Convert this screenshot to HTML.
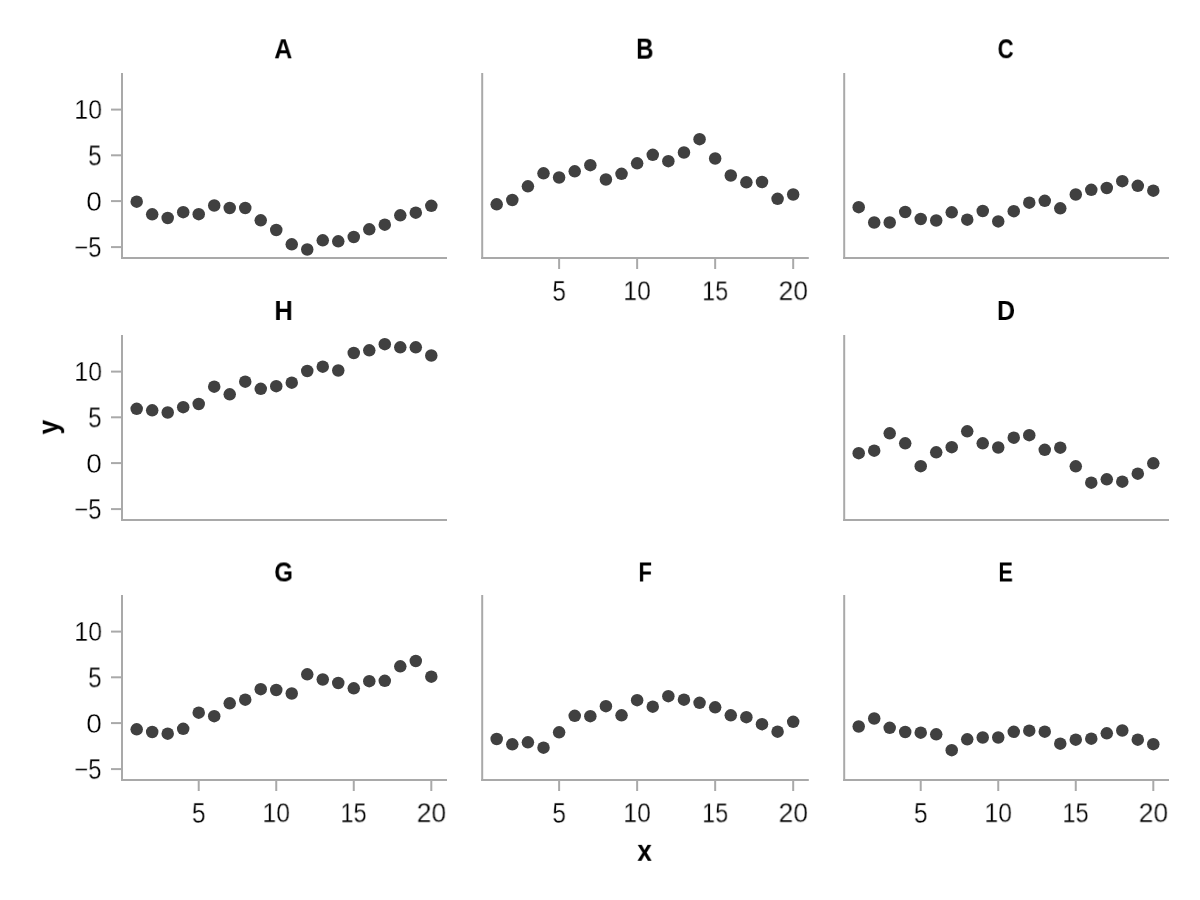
<!DOCTYPE html>
<html><head><meta charset="utf-8"><title>Facet scatter</title>
<style>
html,body{margin:0;padding:0;background:#fff;}
#fig{position:relative;width:1200px;height:900px;overflow:hidden;background:#fff;font-family:"Liberation Sans",sans-serif;}
#fig svg{position:absolute;left:0;top:0;}
.t{position:absolute;left:0;top:0;transform-origin:0 0;white-space:nowrap;color:#000;will-change:transform;}
.b{font-weight:bold;}
.l{font-weight:normal;-webkit-text-stroke:0.3px #fff;}
</style></head>
<body><div id="fig">
<svg width="1200" height="900" viewBox="0 0 1200 900">
<line x1="122.00" y1="73.00" x2="122.00" y2="259.00" stroke="#a9a9a9" stroke-width="2"/>
<line x1="121.00" y1="258.00" x2="447.00" y2="258.00" stroke="#a9a9a9" stroke-width="2"/>
<line x1="111.00" y1="109.60" x2="121.00" y2="109.60" stroke="#a9a9a9" stroke-width="2"/>
<line x1="111.00" y1="155.30" x2="121.00" y2="155.30" stroke="#a9a9a9" stroke-width="2"/>
<line x1="111.00" y1="201.10" x2="121.00" y2="201.10" stroke="#a9a9a9" stroke-width="2"/>
<line x1="111.00" y1="247.10" x2="121.00" y2="247.10" stroke="#a9a9a9" stroke-width="2"/>
<circle cx="136.70" cy="201.70" r="6.25" fill="#404040"/>
<circle cx="152.20" cy="214.30" r="6.25" fill="#404040"/>
<circle cx="167.71" cy="218.00" r="6.25" fill="#404040"/>
<circle cx="183.21" cy="212.20" r="6.25" fill="#404040"/>
<circle cx="198.72" cy="214.20" r="6.25" fill="#404040"/>
<circle cx="214.22" cy="205.50" r="6.25" fill="#404040"/>
<circle cx="229.73" cy="208.00" r="6.25" fill="#404040"/>
<circle cx="245.24" cy="208.00" r="6.25" fill="#404040"/>
<circle cx="260.74" cy="220.30" r="6.25" fill="#404040"/>
<circle cx="276.25" cy="230.00" r="6.25" fill="#404040"/>
<circle cx="291.75" cy="244.30" r="6.25" fill="#404040"/>
<circle cx="307.25" cy="249.50" r="6.25" fill="#404040"/>
<circle cx="322.76" cy="240.30" r="6.25" fill="#404040"/>
<circle cx="338.26" cy="241.30" r="6.25" fill="#404040"/>
<circle cx="353.77" cy="237.00" r="6.25" fill="#404040"/>
<circle cx="369.27" cy="229.30" r="6.25" fill="#404040"/>
<circle cx="384.78" cy="224.70" r="6.25" fill="#404040"/>
<circle cx="400.29" cy="215.30" r="6.25" fill="#404040"/>
<circle cx="415.79" cy="212.70" r="6.25" fill="#404040"/>
<circle cx="431.30" cy="205.80" r="6.25" fill="#404040"/>
<line x1="482.20" y1="73.00" x2="482.20" y2="259.00" stroke="#a9a9a9" stroke-width="2"/>
<line x1="481.20" y1="258.00" x2="808.80" y2="258.00" stroke="#a9a9a9" stroke-width="2"/>
<line x1="559.12" y1="259.00" x2="559.12" y2="269.00" stroke="#a9a9a9" stroke-width="2"/>
<line x1="637.14" y1="259.00" x2="637.14" y2="269.00" stroke="#a9a9a9" stroke-width="2"/>
<line x1="715.17" y1="259.00" x2="715.17" y2="269.00" stroke="#a9a9a9" stroke-width="2"/>
<line x1="793.19" y1="259.00" x2="793.19" y2="269.00" stroke="#a9a9a9" stroke-width="2"/>
<circle cx="496.70" cy="204.30" r="6.25" fill="#404040"/>
<circle cx="512.30" cy="200.00" r="6.25" fill="#404040"/>
<circle cx="527.91" cy="186.30" r="6.25" fill="#404040"/>
<circle cx="543.51" cy="173.30" r="6.25" fill="#404040"/>
<circle cx="559.12" cy="177.50" r="6.25" fill="#404040"/>
<circle cx="574.73" cy="171.30" r="6.25" fill="#404040"/>
<circle cx="590.33" cy="165.20" r="6.25" fill="#404040"/>
<circle cx="605.93" cy="179.50" r="6.25" fill="#404040"/>
<circle cx="621.54" cy="173.80" r="6.25" fill="#404040"/>
<circle cx="637.14" cy="163.30" r="6.25" fill="#404040"/>
<circle cx="652.75" cy="154.80" r="6.25" fill="#404040"/>
<circle cx="668.36" cy="161.20" r="6.25" fill="#404040"/>
<circle cx="683.96" cy="152.50" r="6.25" fill="#404040"/>
<circle cx="699.57" cy="139.20" r="6.25" fill="#404040"/>
<circle cx="715.17" cy="158.50" r="6.25" fill="#404040"/>
<circle cx="730.77" cy="175.50" r="6.25" fill="#404040"/>
<circle cx="746.38" cy="182.30" r="6.25" fill="#404040"/>
<circle cx="761.99" cy="182.00" r="6.25" fill="#404040"/>
<circle cx="777.59" cy="198.80" r="6.25" fill="#404040"/>
<circle cx="793.19" cy="194.50" r="6.25" fill="#404040"/>
<line x1="844.20" y1="73.00" x2="844.20" y2="259.00" stroke="#a9a9a9" stroke-width="2"/>
<line x1="843.20" y1="258.00" x2="1169.00" y2="258.00" stroke="#a9a9a9" stroke-width="2"/>
<circle cx="858.70" cy="207.20" r="6.25" fill="#404040"/>
<circle cx="874.21" cy="222.50" r="6.25" fill="#404040"/>
<circle cx="889.71" cy="222.50" r="6.25" fill="#404040"/>
<circle cx="905.22" cy="212.00" r="6.25" fill="#404040"/>
<circle cx="920.72" cy="219.00" r="6.25" fill="#404040"/>
<circle cx="936.23" cy="220.50" r="6.25" fill="#404040"/>
<circle cx="951.73" cy="212.30" r="6.25" fill="#404040"/>
<circle cx="967.24" cy="219.70" r="6.25" fill="#404040"/>
<circle cx="982.74" cy="211.00" r="6.25" fill="#404040"/>
<circle cx="998.25" cy="221.40" r="6.25" fill="#404040"/>
<circle cx="1013.75" cy="211.20" r="6.25" fill="#404040"/>
<circle cx="1029.26" cy="202.70" r="6.25" fill="#404040"/>
<circle cx="1044.76" cy="200.80" r="6.25" fill="#404040"/>
<circle cx="1060.27" cy="208.30" r="6.25" fill="#404040"/>
<circle cx="1075.77" cy="194.50" r="6.25" fill="#404040"/>
<circle cx="1091.28" cy="189.80" r="6.25" fill="#404040"/>
<circle cx="1106.78" cy="188.00" r="6.25" fill="#404040"/>
<circle cx="1122.29" cy="181.20" r="6.25" fill="#404040"/>
<circle cx="1137.79" cy="185.80" r="6.25" fill="#404040"/>
<circle cx="1153.30" cy="190.70" r="6.25" fill="#404040"/>
<line x1="122.00" y1="335.00" x2="122.00" y2="521.00" stroke="#a9a9a9" stroke-width="2"/>
<line x1="121.00" y1="520.00" x2="447.00" y2="520.00" stroke="#a9a9a9" stroke-width="2"/>
<line x1="111.00" y1="371.60" x2="121.00" y2="371.60" stroke="#a9a9a9" stroke-width="2"/>
<line x1="111.00" y1="417.30" x2="121.00" y2="417.30" stroke="#a9a9a9" stroke-width="2"/>
<line x1="111.00" y1="463.10" x2="121.00" y2="463.10" stroke="#a9a9a9" stroke-width="2"/>
<line x1="111.00" y1="509.10" x2="121.00" y2="509.10" stroke="#a9a9a9" stroke-width="2"/>
<circle cx="136.70" cy="408.80" r="6.25" fill="#404040"/>
<circle cx="152.20" cy="410.30" r="6.25" fill="#404040"/>
<circle cx="167.71" cy="412.50" r="6.25" fill="#404040"/>
<circle cx="183.21" cy="407.20" r="6.25" fill="#404040"/>
<circle cx="198.72" cy="404.00" r="6.25" fill="#404040"/>
<circle cx="214.22" cy="386.70" r="6.25" fill="#404040"/>
<circle cx="229.73" cy="394.30" r="6.25" fill="#404040"/>
<circle cx="245.24" cy="381.70" r="6.25" fill="#404040"/>
<circle cx="260.74" cy="388.80" r="6.25" fill="#404040"/>
<circle cx="276.25" cy="386.20" r="6.25" fill="#404040"/>
<circle cx="291.75" cy="382.70" r="6.25" fill="#404040"/>
<circle cx="307.25" cy="371.00" r="6.25" fill="#404040"/>
<circle cx="322.76" cy="366.70" r="6.25" fill="#404040"/>
<circle cx="338.26" cy="370.50" r="6.25" fill="#404040"/>
<circle cx="353.77" cy="353.00" r="6.25" fill="#404040"/>
<circle cx="369.27" cy="350.30" r="6.25" fill="#404040"/>
<circle cx="384.78" cy="344.20" r="6.25" fill="#404040"/>
<circle cx="400.29" cy="347.30" r="6.25" fill="#404040"/>
<circle cx="415.79" cy="347.30" r="6.25" fill="#404040"/>
<circle cx="431.30" cy="355.50" r="6.25" fill="#404040"/>
<line x1="844.20" y1="335.00" x2="844.20" y2="521.00" stroke="#a9a9a9" stroke-width="2"/>
<line x1="843.20" y1="520.00" x2="1169.00" y2="520.00" stroke="#a9a9a9" stroke-width="2"/>
<circle cx="858.70" cy="453.20" r="6.25" fill="#404040"/>
<circle cx="874.21" cy="450.70" r="6.25" fill="#404040"/>
<circle cx="889.71" cy="433.30" r="6.25" fill="#404040"/>
<circle cx="905.22" cy="443.30" r="6.25" fill="#404040"/>
<circle cx="920.72" cy="466.20" r="6.25" fill="#404040"/>
<circle cx="936.23" cy="452.30" r="6.25" fill="#404040"/>
<circle cx="951.73" cy="447.20" r="6.25" fill="#404040"/>
<circle cx="967.24" cy="431.30" r="6.25" fill="#404040"/>
<circle cx="982.74" cy="443.30" r="6.25" fill="#404040"/>
<circle cx="998.25" cy="447.50" r="6.25" fill="#404040"/>
<circle cx="1013.75" cy="437.70" r="6.25" fill="#404040"/>
<circle cx="1029.26" cy="435.20" r="6.25" fill="#404040"/>
<circle cx="1044.76" cy="449.80" r="6.25" fill="#404040"/>
<circle cx="1060.27" cy="447.70" r="6.25" fill="#404040"/>
<circle cx="1075.77" cy="466.30" r="6.25" fill="#404040"/>
<circle cx="1091.28" cy="482.70" r="6.25" fill="#404040"/>
<circle cx="1106.78" cy="479.30" r="6.25" fill="#404040"/>
<circle cx="1122.29" cy="481.70" r="6.25" fill="#404040"/>
<circle cx="1137.79" cy="473.70" r="6.25" fill="#404040"/>
<circle cx="1153.30" cy="463.30" r="6.25" fill="#404040"/>
<line x1="122.00" y1="595.00" x2="122.00" y2="781.00" stroke="#a9a9a9" stroke-width="2"/>
<line x1="121.00" y1="780.00" x2="447.00" y2="780.00" stroke="#a9a9a9" stroke-width="2"/>
<line x1="111.00" y1="631.60" x2="121.00" y2="631.60" stroke="#a9a9a9" stroke-width="2"/>
<line x1="111.00" y1="677.30" x2="121.00" y2="677.30" stroke="#a9a9a9" stroke-width="2"/>
<line x1="111.00" y1="723.10" x2="121.00" y2="723.10" stroke="#a9a9a9" stroke-width="2"/>
<line x1="111.00" y1="769.10" x2="121.00" y2="769.10" stroke="#a9a9a9" stroke-width="2"/>
<line x1="198.72" y1="781.00" x2="198.72" y2="791.00" stroke="#a9a9a9" stroke-width="2"/>
<line x1="276.25" y1="781.00" x2="276.25" y2="791.00" stroke="#a9a9a9" stroke-width="2"/>
<line x1="353.77" y1="781.00" x2="353.77" y2="791.00" stroke="#a9a9a9" stroke-width="2"/>
<line x1="431.30" y1="781.00" x2="431.30" y2="791.00" stroke="#a9a9a9" stroke-width="2"/>
<circle cx="136.70" cy="729.30" r="6.25" fill="#404040"/>
<circle cx="152.20" cy="732.00" r="6.25" fill="#404040"/>
<circle cx="167.71" cy="733.70" r="6.25" fill="#404040"/>
<circle cx="183.21" cy="728.80" r="6.25" fill="#404040"/>
<circle cx="198.72" cy="712.70" r="6.25" fill="#404040"/>
<circle cx="214.22" cy="716.20" r="6.25" fill="#404040"/>
<circle cx="229.73" cy="703.30" r="6.25" fill="#404040"/>
<circle cx="245.24" cy="699.70" r="6.25" fill="#404040"/>
<circle cx="260.74" cy="689.20" r="6.25" fill="#404040"/>
<circle cx="276.25" cy="690.00" r="6.25" fill="#404040"/>
<circle cx="291.75" cy="693.50" r="6.25" fill="#404040"/>
<circle cx="307.25" cy="674.30" r="6.25" fill="#404040"/>
<circle cx="322.76" cy="679.50" r="6.25" fill="#404040"/>
<circle cx="338.26" cy="683.00" r="6.25" fill="#404040"/>
<circle cx="353.77" cy="688.30" r="6.25" fill="#404040"/>
<circle cx="369.27" cy="681.20" r="6.25" fill="#404040"/>
<circle cx="384.78" cy="680.80" r="6.25" fill="#404040"/>
<circle cx="400.29" cy="666.30" r="6.25" fill="#404040"/>
<circle cx="415.79" cy="661.00" r="6.25" fill="#404040"/>
<circle cx="431.30" cy="676.70" r="6.25" fill="#404040"/>
<line x1="482.20" y1="595.00" x2="482.20" y2="781.00" stroke="#a9a9a9" stroke-width="2"/>
<line x1="481.20" y1="780.00" x2="808.80" y2="780.00" stroke="#a9a9a9" stroke-width="2"/>
<line x1="559.12" y1="781.00" x2="559.12" y2="791.00" stroke="#a9a9a9" stroke-width="2"/>
<line x1="637.14" y1="781.00" x2="637.14" y2="791.00" stroke="#a9a9a9" stroke-width="2"/>
<line x1="715.17" y1="781.00" x2="715.17" y2="791.00" stroke="#a9a9a9" stroke-width="2"/>
<line x1="793.19" y1="781.00" x2="793.19" y2="791.00" stroke="#a9a9a9" stroke-width="2"/>
<circle cx="496.70" cy="739.00" r="6.25" fill="#404040"/>
<circle cx="512.30" cy="744.30" r="6.25" fill="#404040"/>
<circle cx="527.91" cy="742.30" r="6.25" fill="#404040"/>
<circle cx="543.51" cy="747.70" r="6.25" fill="#404040"/>
<circle cx="559.12" cy="732.30" r="6.25" fill="#404040"/>
<circle cx="574.73" cy="715.80" r="6.25" fill="#404040"/>
<circle cx="590.33" cy="716.20" r="6.25" fill="#404040"/>
<circle cx="605.93" cy="706.20" r="6.25" fill="#404040"/>
<circle cx="621.54" cy="715.30" r="6.25" fill="#404040"/>
<circle cx="637.14" cy="700.20" r="6.25" fill="#404040"/>
<circle cx="652.75" cy="706.70" r="6.25" fill="#404040"/>
<circle cx="668.36" cy="696.20" r="6.25" fill="#404040"/>
<circle cx="683.96" cy="699.70" r="6.25" fill="#404040"/>
<circle cx="699.57" cy="702.80" r="6.25" fill="#404040"/>
<circle cx="715.17" cy="707.30" r="6.25" fill="#404040"/>
<circle cx="730.77" cy="715.30" r="6.25" fill="#404040"/>
<circle cx="746.38" cy="717.20" r="6.25" fill="#404040"/>
<circle cx="761.99" cy="724.20" r="6.25" fill="#404040"/>
<circle cx="777.59" cy="731.70" r="6.25" fill="#404040"/>
<circle cx="793.19" cy="721.80" r="6.25" fill="#404040"/>
<line x1="844.20" y1="595.00" x2="844.20" y2="781.00" stroke="#a9a9a9" stroke-width="2"/>
<line x1="843.20" y1="780.00" x2="1169.00" y2="780.00" stroke="#a9a9a9" stroke-width="2"/>
<line x1="920.72" y1="781.00" x2="920.72" y2="791.00" stroke="#a9a9a9" stroke-width="2"/>
<line x1="998.25" y1="781.00" x2="998.25" y2="791.00" stroke="#a9a9a9" stroke-width="2"/>
<line x1="1075.77" y1="781.00" x2="1075.77" y2="791.00" stroke="#a9a9a9" stroke-width="2"/>
<line x1="1153.30" y1="781.00" x2="1153.30" y2="791.00" stroke="#a9a9a9" stroke-width="2"/>
<circle cx="858.70" cy="726.50" r="6.25" fill="#404040"/>
<circle cx="874.21" cy="718.50" r="6.25" fill="#404040"/>
<circle cx="889.71" cy="727.80" r="6.25" fill="#404040"/>
<circle cx="905.22" cy="732.00" r="6.25" fill="#404040"/>
<circle cx="920.72" cy="732.70" r="6.25" fill="#404040"/>
<circle cx="936.23" cy="734.30" r="6.25" fill="#404040"/>
<circle cx="951.73" cy="750.20" r="6.25" fill="#404040"/>
<circle cx="967.24" cy="739.30" r="6.25" fill="#404040"/>
<circle cx="982.74" cy="737.50" r="6.25" fill="#404040"/>
<circle cx="998.25" cy="737.50" r="6.25" fill="#404040"/>
<circle cx="1013.75" cy="731.80" r="6.25" fill="#404040"/>
<circle cx="1029.26" cy="730.70" r="6.25" fill="#404040"/>
<circle cx="1044.76" cy="731.70" r="6.25" fill="#404040"/>
<circle cx="1060.27" cy="743.70" r="6.25" fill="#404040"/>
<circle cx="1075.77" cy="739.70" r="6.25" fill="#404040"/>
<circle cx="1091.28" cy="738.70" r="6.25" fill="#404040"/>
<circle cx="1106.78" cy="733.30" r="6.25" fill="#404040"/>
<circle cx="1122.29" cy="730.50" r="6.25" fill="#404040"/>
<circle cx="1137.79" cy="739.70" r="6.25" fill="#404040"/>
<circle cx="1153.30" cy="744.20" r="6.25" fill="#404040"/>
</svg>
<div class="t l" style="font-size:27px;line-height:27px;transform:translate(74.26px,97.02px) scale(0.9283,1.0187)">10</div>
<div class="t l" style="font-size:27px;line-height:27px;transform:translate(88.06px,142.50px) scale(0.9040,1.0595)">5</div>
<div class="t l" style="font-size:27px;line-height:27px;transform:translate(86.20px,187.80px) scale(1.0400,1.0453)">0</div>
<div class="t l" style="font-size:27px;line-height:27px;transform:translate(74.51px,234.21px) scale(0.8750,1.0595)">−5</div>
<div class="t b" style="font-size:28px;line-height:28px;transform:translate(274.28px,35.28px) scale(0.8907,1.0078)">A</div>
<div class="t l" style="font-size:27px;line-height:27px;transform:translate(552.34px,278.04px) scale(0.9120,1.0595)">5</div>
<div class="t l" style="font-size:27px;line-height:27px;transform:translate(623.26px,277.29px) scale(0.9208,1.0240)">10</div>
<div class="t l" style="font-size:27px;line-height:27px;transform:translate(702.05px,277.51px) scale(0.8717,1.0541)">15</div>
<div class="t l" style="font-size:27px;line-height:27px;transform:translate(778.54px,277.32px) scale(0.9835,1.0400)">20</div>
<div class="t b" style="font-size:28px;line-height:28px;transform:translate(636.11px,34.68px) scale(0.8588,1.0234)">B</div>
<div class="t b" style="font-size:28px;line-height:28px;transform:translate(997.66px,35.24px) scale(0.7863,1.0101)">C</div>
<div class="t l" style="font-size:27px;line-height:27px;transform:translate(74.26px,359.02px) scale(0.9283,1.0187)">10</div>
<div class="t l" style="font-size:27px;line-height:27px;transform:translate(88.06px,404.50px) scale(0.9040,1.0595)">5</div>
<div class="t l" style="font-size:27px;line-height:27px;transform:translate(86.20px,449.80px) scale(1.0400,1.0453)">0</div>
<div class="t l" style="font-size:27px;line-height:27px;transform:translate(74.51px,496.21px) scale(0.8750,1.0595)">−5</div>
<div class="t b" style="font-size:28px;line-height:28px;transform:translate(274.46px,297.01px) scale(0.9046,1.0078)">H</div>
<div class="t b" style="font-size:28px;line-height:28px;transform:translate(996.97px,297.01px) scale(0.8971,1.0156)">D</div>
<div class="t l" style="font-size:27px;line-height:27px;transform:translate(74.26px,619.02px) scale(0.9283,1.0187)">10</div>
<div class="t l" style="font-size:27px;line-height:27px;transform:translate(88.06px,664.50px) scale(0.9040,1.0595)">5</div>
<div class="t l" style="font-size:27px;line-height:27px;transform:translate(86.20px,709.80px) scale(1.0400,1.0453)">0</div>
<div class="t l" style="font-size:27px;line-height:27px;transform:translate(74.51px,756.21px) scale(0.8750,1.0595)">−5</div>
<div class="t l" style="font-size:27px;line-height:27px;transform:translate(191.88px,800.01px) scale(0.9120,1.0595)">5</div>
<div class="t l" style="font-size:27px;line-height:27px;transform:translate(262.42px,799.27px) scale(0.9208,1.0240)">10</div>
<div class="t l" style="font-size:27px;line-height:27px;transform:translate(340.46px,799.46px) scale(0.8717,1.0541)">15</div>
<div class="t l" style="font-size:27px;line-height:27px;transform:translate(416.67px,799.28px) scale(0.9835,1.0400)">20</div>
<div class="t b" style="font-size:28px;line-height:28px;transform:translate(274.36px,558.43px) scale(0.8533,1.0127)">G</div>
<div class="t l" style="font-size:27px;line-height:27px;transform:translate(552.34px,800.04px) scale(0.9120,1.0595)">5</div>
<div class="t l" style="font-size:27px;line-height:27px;transform:translate(623.26px,799.29px) scale(0.9208,1.0240)">10</div>
<div class="t l" style="font-size:27px;line-height:27px;transform:translate(702.05px,799.51px) scale(0.8717,1.0541)">15</div>
<div class="t l" style="font-size:27px;line-height:27px;transform:translate(778.54px,799.32px) scale(0.9835,1.0400)">20</div>
<div class="t b" style="font-size:28px;line-height:28px;transform:translate(638.55px,558.46px) scale(0.7857,1.0104)">F</div>
<div class="t l" style="font-size:27px;line-height:27px;transform:translate(913.88px,800.01px) scale(0.9120,1.0595)">5</div>
<div class="t l" style="font-size:27px;line-height:27px;transform:translate(984.42px,799.27px) scale(0.9208,1.0240)">10</div>
<div class="t l" style="font-size:27px;line-height:27px;transform:translate(1062.46px,799.46px) scale(0.8717,1.0541)">15</div>
<div class="t l" style="font-size:27px;line-height:27px;transform:translate(1138.67px,799.28px) scale(0.9835,1.0400)">20</div>
<div class="t b" style="font-size:28px;line-height:28px;transform:translate(998.42px,558.52px) scale(0.7742,1.0104)">E</div>
<div class="t b" style="font-size:30px;line-height:30px;transform:translate(637.35px,835.86px) scale(0.8687,0.9968)">x</div>
<div class="t b" style="font-size:30px;line-height:30px;transform:translate(34.00px,434.44px) rotate(-90deg) scale(0.8738,0.9727)">y</div>
</div></body></html>
